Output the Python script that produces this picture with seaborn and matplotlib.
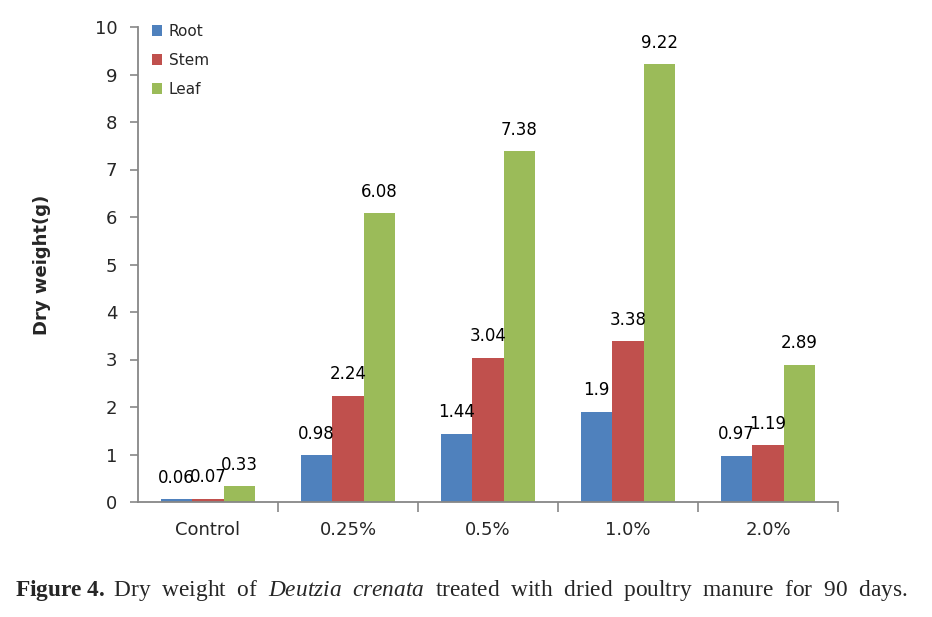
import pandas as pd
import seaborn as sns
import matplotlib.pyplot as plt
from matplotlib.ticker import FixedLocator

# Data
treatments = ["Control", "0.25%", "0.5%", "1.0%", "2.0%"]
parts = ["Root", "Stem", "Leaf"]
root = [0.06, 0.98, 1.44, 1.9, 0.97]
stem = [0.07, 2.24, 3.04, 3.38, 1.19]
leaf = [0.33, 6.08, 7.38, 9.22, 2.89]
colors = ["#4F81BD", "#C0504D", "#9BBB59"]

df = pd.DataFrame({
    "treatment": treatments * 3,
    "part": ["Root"] * 5 + ["Stem"] * 5 + ["Leaf"] * 5,
    "weight": root + stem + leaf,
})

sns.set_theme(style="white")
plt.rcParams["font.family"] = ["DejaVu Sans"]
plt.rcParams["mathtext.fontset"] = "custom"
plt.rcParams["mathtext.rm"] = "Liberation Serif"
plt.rcParams["mathtext.it"] = "Liberation Serif:italic"
plt.rcParams["mathtext.bf"] = "Liberation Serif:bold"

fig = plt.figure(figsize=(9.32, 6.17), dpi=100)
ax = fig.add_axes([138 / 932, 1 - 502 / 617, 700 / 932, 475 / 617])

sns.barplot(data=df, x="treatment", y="weight", hue="part", order=treatments,
            hue_order=parts, palette=colors, width=0.67, saturation=1,
            linewidth=0, ax=ax)

for cont, vals in zip(ax.containers, [root, stem, leaf]):
    ax.bar_label(cont, labels=[f"{v:g}" for v in vals], padding=9,
                 fontsize=12, color="#000000")

ax.set_ylim(0, 10)
ax.set_xlim(-0.5, 4.5)
ax.set_yticks(range(0, 11))
ax.xaxis.set_minor_locator(FixedLocator([0.5, 1.5, 2.5, 3.5, 4.5]))
ax.tick_params(axis="x", which="major", length=0, labelsize=13, pad=14)
ax.tick_params(axis="x", which="minor", length=7, color="#878787", width=1.2,
               bottom=True)
ax.tick_params(axis="y", length=6, color="#878787", width=1.2, labelsize=13,
               left=True, pad=9)
for s in ["top", "right"]:
    ax.spines[s].set_visible(False)
for s in ["left", "bottom"]:
    ax.spines[s].set_color("#878787")
    ax.spines[s].set_linewidth(1.3)

ax.set_xlabel("")
ax.set_ylabel("Dry weight(g)", fontsize=13, fontweight="bold", labelpad=31)

leg = ax.legend(loc="upper left", bbox_to_anchor=(0.0, 1.035), frameon=False,
                fontsize=11, handlelength=0.7, handleheight=0.7,
                handletextpad=0.4, labelspacing=0.9)

fig.text(0.016, 0.043,
         r"$\bf{Figure\ 4.}$ Dry  weight  of  $\it{Deutzia\ \ crenata}$  treated  with  dried  poultry  manure  for  90  days.",
         fontsize=16.8, family="Liberation Serif", ha="left", va="center")

fig.savefig("out.png", dpi=100)
